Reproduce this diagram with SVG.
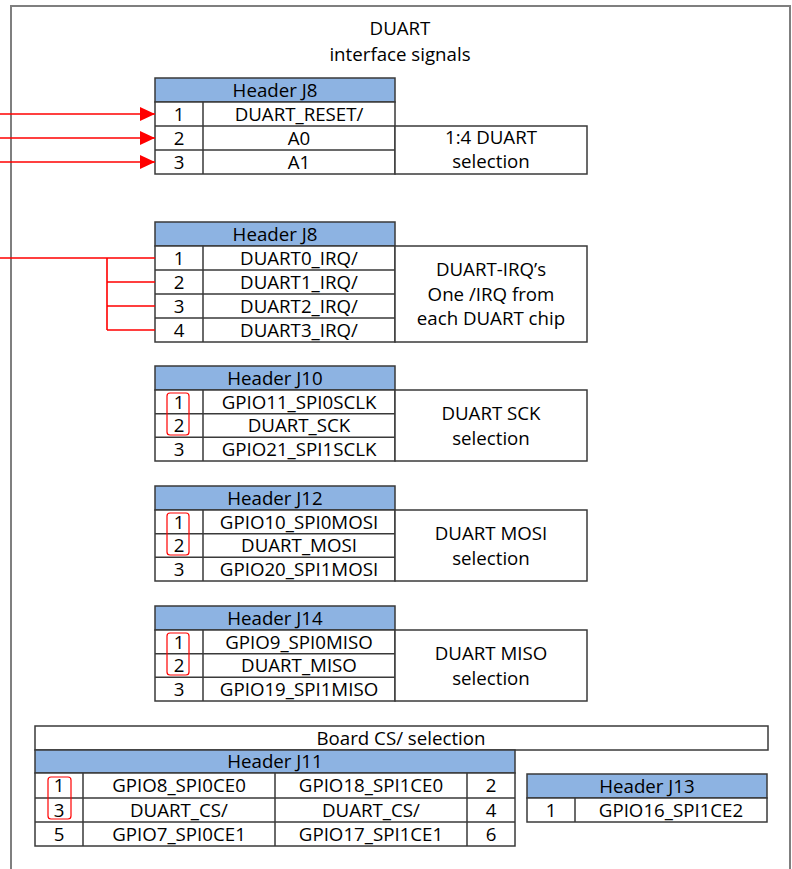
<svg xmlns="http://www.w3.org/2000/svg" width="792" height="869" viewBox="0 0 792 869">
<defs>
<style>
text{font-family:"Open Sans","Noto Sans",sans-serif;font-size:18.7px;fill:#000;text-anchor:middle}
.cell{fill:#fff;stroke:#3a3a3a;stroke-width:1.5}
.hdr{fill:#8db3e2;stroke:#3a3a3a;stroke-width:1.5}
.ln{stroke:#3a3a3a;stroke-width:1.5;fill:none}
.sel{fill:none;stroke:#ff0000;stroke-width:1.2}
.wire{stroke:#ff0000;stroke-width:1.6;fill:none}
</style>
<marker id="arr" markerWidth="16" markerHeight="14" refX="15" refY="7" orient="auto" markerUnits="userSpaceOnUse">
<path d="M0,0 L15,7 L0,14 Z" fill="#ff0000"/>
</marker>
</defs>
<rect width="792" height="869" fill="#fff"/>
<g id="frame">
<path d="M11,875 V6 H790 V875" fill="none" stroke="#7f7f7f" stroke-width="2"/>
<text x="400" y="35">DUART</text>
<text x="400" y="61">interface signals</text>
</g>

<g id="j8a">
<rect class="hdr" x="155" y="78" width="240" height="24"/>
<text x="275" y="96.5">Header J8</text>
<rect class="cell" x="155" y="102" width="240" height="72"/>
<path class="ln" d="M155,126 H395 M155,150 H395 M203,102 V174"/>
<text x="179" y="120.5">1</text><text x="299" y="120.5">DUART_RESET/</text>
<text x="179" y="144.5">2</text><text x="299" y="144.5">A0</text>
<text x="179" y="168.5">3</text><text x="299" y="168.5">A1</text>
</g>
<g id="j8a-note">
<rect class="cell" x="395" y="126" width="192" height="48"/>
<text x="491" y="144">1:4 DUART</text>
<text x="491" y="168">selection</text>
</g>

<g id="j8b">
<rect class="hdr" x="155" y="222" width="240" height="24"/>
<text x="275" y="240.5">Header J8</text>
<rect class="cell" x="155" y="246" width="240" height="96"/>
<path class="ln" d="M155,270 H395 M155,294 H395 M155,318 H395 M203,246 V342"/>
<text x="179" y="264.5">1</text><text x="299" y="264.5">DUART0_IRQ/</text>
<text x="179" y="288.5">2</text><text x="299" y="288.5">DUART1_IRQ/</text>
<text x="179" y="312.5">3</text><text x="299" y="312.5">DUART2_IRQ/</text>
<text x="179" y="336.5">4</text><text x="299" y="336.5">DUART3_IRQ/</text>
</g>
<g id="j8b-note">
<rect class="cell" x="395" y="246" width="192" height="96"/>
<text x="491" y="276">DUART-IRQ’s</text>
<text x="491" y="300.5">One /IRQ from</text>
<text x="491" y="325">each DUART chip</text>
</g>

<g id="j10">
<rect class="hdr" x="155" y="366" width="240" height="24"/>
<text x="275" y="384.5">Header J10</text>
<rect class="cell" x="155" y="390" width="240" height="71"/>
<path class="ln" d="M155,413.7 H395 M155,437.3 H395 M203,390 V461"/>
<text x="179" y="408.5">1</text><text x="299" y="408.5">GPIO11_SPI0SCLK</text>
<text x="179" y="432">2</text><text x="299" y="432">DUART_SCK</text>
<text x="179" y="455.5">3</text><text x="299" y="455.5">GPIO21_SPI1SCLK</text>
<rect class="sel" x="167" y="393" width="22" height="42" rx="3"/>
</g>
<g id="j10-note">
<rect class="cell" x="395" y="390" width="192" height="71"/>
<text x="491" y="420">DUART SCK</text>
<text x="491" y="444.5">selection</text>
</g>

<g id="j12">
<rect class="hdr" x="155" y="486" width="240" height="24"/>
<text x="275" y="504.5">Header J12</text>
<rect class="cell" x="155" y="510" width="240" height="71"/>
<path class="ln" d="M155,533.7 H395 M155,557.3 H395 M203,510 V581"/>
<text x="179" y="528.5">1</text><text x="299" y="528.5">GPIO10_SPI0MOSI</text>
<text x="179" y="552">2</text><text x="299" y="552">DUART_MOSI</text>
<text x="179" y="575.5">3</text><text x="299" y="575.5">GPIO20_SPI1MOSI</text>
<rect class="sel" x="167" y="513" width="22" height="42" rx="3"/>
</g>
<g id="j12-note">
<rect class="cell" x="395" y="510" width="192" height="71"/>
<text x="491" y="540">DUART MOSI</text>
<text x="491" y="564.5">selection</text>
</g>

<g id="j14">
<rect class="hdr" x="155" y="606" width="240" height="24"/>
<text x="275" y="624.5">Header J14</text>
<rect class="cell" x="155" y="630" width="240" height="71"/>
<path class="ln" d="M155,653.7 H395 M155,677.3 H395 M203,630 V701"/>
<text x="179" y="648.5">1</text><text x="299" y="648.5">GPIO9_SPI0MISO</text>
<text x="179" y="672">2</text><text x="299" y="672">DUART_MISO</text>
<text x="179" y="695.5">3</text><text x="299" y="695.5">GPIO19_SPI1MISO</text>
<rect class="sel" x="167" y="633" width="22" height="42" rx="3"/>
</g>
<g id="j14-note">
<rect class="cell" x="395" y="630" width="192" height="71"/>
<text x="491" y="660">DUART MISO</text>
<text x="491" y="684.5">selection</text>
</g>

<g id="board-cs">
<rect class="cell" x="35" y="726" width="733" height="24"/>
<text x="401" y="744.5">Board CS/ selection</text>
</g>

<g id="j11">
<rect class="hdr" x="35" y="750" width="480" height="23"/>
<text x="275" y="768">Header J11</text>
<rect class="cell" x="35" y="773" width="480" height="73"/>
<path class="ln" d="M35,798 H515 M35,822 H515 M83,773 V846 M275,773 V846 M467,773 V846"/>
<text x="59" y="792">1</text><text x="179" y="792">GPIO8_SPI0CE0</text><text x="371" y="792">GPIO18_SPI1CE0</text><text x="491" y="792">2</text>
<text x="59" y="816.5">3</text><text x="179" y="816.5">DUART_CS/</text><text x="371" y="816.5">DUART_CS/</text><text x="491" y="816.5">4</text>
<text x="59" y="840.5">5</text><text x="179" y="840.5">GPIO7_SPI0CE1</text><text x="371" y="840.5">GPIO17_SPI1CE1</text><text x="491" y="840.5">6</text>
<rect class="sel" x="48" y="777" width="23" height="42" rx="3"/>
</g>

<g id="j13">
<rect class="hdr" x="527" y="774" width="240" height="24"/>
<text x="647" y="792.5">Header J13</text>
<rect class="cell" x="527" y="798" width="240" height="24"/>
<path class="ln" d="M575,798 V822"/>
<text x="551" y="816.5">1</text><text x="671" y="816.5">GPIO16_SPI1CE2</text>
</g>

<g id="connectors">
<path class="wire" d="M0,114 H155" marker-end="url(#arr)"/>
<path class="wire" d="M0,138 H155" marker-end="url(#arr)"/>
<path class="wire" d="M0,162 H155" marker-end="url(#arr)"/>
<path class="wire" d="M0,258 H155 M107,258 V330 M107,282 H155 M107,306 H155 M107,330 H155"/>
</g>
</svg>
